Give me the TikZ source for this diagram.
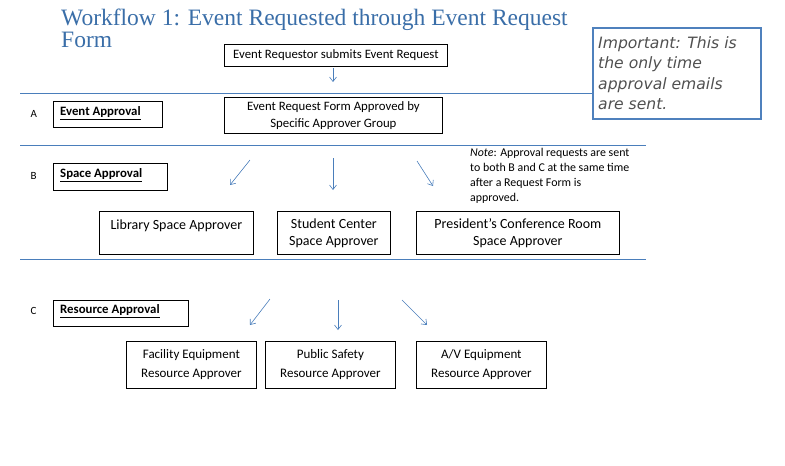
\documentclass[tikz,border=0pt]{standalone}
\usepackage{fontspec}
\setmainfont{Carlito}
\newfontfamily\titlefont{Liberation Serif}
\newfontfamily\calloutfont{DejaVu Sans}
\usetikzlibrary{arrows.meta}
\definecolor{rulecol}{HTML}{4A7EBB}
\definecolor{titlecol}{HTML}{3A6EA8}
\definecolor{calloutcol}{HTML}{4F81BD}
\definecolor{callouttext}{HTML}{505050}
\tikzset{
  box/.style={draw=black, line width=0.8pt, anchor=north west, inner sep=0pt, align=center},
  lab/.style={box},
  labtext/.style={anchor=west, inner sep=0pt, font=\fontsize{12.8}{14}\selectfont\bfseries},
  rowletter/.style={font=\fontsize{11}{12}\selectfont, anchor=west},
  sep/.style={draw=rulecol, line width=0.8pt},
  arr/.style={draw=rulecol, line width=0.6pt, -{Straight Barb[length=4.5pt,width=7pt]}},
}
\begin{document}
\begin{tikzpicture}[x=1pt,y=-1pt]
\useasboundingbox (0,0) rectangle (785,466);
% title
\node[anchor=north west, inner sep=0pt, align=left, text=titlecol,
      font=\titlefont\fontsize{23.5}{22}\selectfont] (title) at (61,8.5)
      {Workflow 1: Event Requested through Event Request\\Form};
% callout
\node[draw=calloutcol, line width=1.6pt, anchor=north west, minimum width=168pt, minimum height=91pt,
      inner sep=0pt] (callout) at (592,27) {};
\node[anchor=north west, inner sep=0pt, align=left, text=callouttext,
      font=\calloutfont\itshape\fontsize{15.6}{20.6}\selectfont] (callouttxt) at (598,36)
      {Important: This is\\the only time\\approval emails\\are sent.};
% top box
\node[box, minimum width=223pt, minimum height=22pt, font=\fontsize{12.8}{15}\selectfont] (req) at (224,44)
      {Event Requestor submits Event Request};
\coordinate (a0s) at (333,68);
\coordinate (a0e) at (333,82);
\draw[arr] (a0s) -- (a0e);
% separator lines
\coordinate (l1s) at (20,93);
\draw[sep] (l1s) -- (callout.west |- l1s);
\coordinate (l2s) at (20,145);
\coordinate (l2e) at (646,145);
\draw[sep] (l2s) -- (l2e);
\coordinate (l3s) at (20,259);
\coordinate (l3e) at (646,259);
\draw[sep] (l3s) -- (l3e);
% row A
\node[rowletter] (la) at (27,114) {A};
\node[lab, minimum width=109pt, minimum height=26pt] (evap) at (53,101) {};
\node[labtext] (evapt) at (60,113) {\underline{Event Approval}};
\node[box, minimum width=218pt, minimum height=36pt, font=\fontsize{12.8}{17}\selectfont] (form) at (224,97)
      {Event Request Form Approved by\\Specific Approver Group};
% row B
\node[rowletter] (lb) at (27,176) {B};
\node[lab, minimum width=114pt, minimum height=27pt] (spap) at (53,163) {};
\node[labtext] (spapt) at (60,175) {\underline{Space Approval}};
\coordinate (b1s) at (250,160); \coordinate (b1e) at (230,185);
\coordinate (b2s) at (333,158); \coordinate (b2e) at (333,190);
\coordinate (b3s) at (417,161); \coordinate (b3e) at (433,186);
\draw[arr] (b1s) -- (b1e);
\draw[arr] (b2s) -- (b2e);
\draw[arr] (b3s) -- (b3e);
\node[anchor=north west, inner sep=0pt, align=left, font=\fontsize{11.9}{14.8}\selectfont] (note) at (470,148.5)
      {\textit{Note}: Approval requests are sent\\to both B and C at the same time\\after a Request Form is\\approved.};
\node[box, minimum width=154pt, minimum height=43pt, font=\fontsize{14}{17}\selectfont] (lib) at (99,211)
      {Library Space Approver\\\mbox{}};
\node[box, minimum width=113pt, minimum height=43pt, font=\fontsize{14}{17}\selectfont] (stu) at (277,211)
      {Student Center\\Space Approver};
\node[box, minimum width=203pt, minimum height=43pt, font=\fontsize{14}{17}\selectfont] (pres) at (416,211)
      {President’s Conference Room\\Space Approver};
% row C
\node[rowletter] (lc) at (27,311) {C};
\node[lab, minimum width=135pt, minimum height=26pt] (resap) at (53,300) {};
\node[labtext] (resapt) at (60,311) {\underline{Resource Approval}};
\coordinate (c1s) at (270,299); \coordinate (c1e) at (250,325);
\coordinate (c2s) at (338,300); \coordinate (c2e) at (338,330);
\coordinate (c3s) at (402,300); \coordinate (c3e) at (427,325);
\draw[arr] (c1s) -- (c1e);
\draw[arr] (c2s) -- (c2e);
\draw[arr] (c3s) -- (c3e);
\node[box, minimum width=130pt, minimum height=47pt, font=\fontsize{13}{19}\selectfont] (fac) at (126,341)
      {Facility Equipment\\Resource Approver};
\node[box, minimum width=130pt, minimum height=47pt, font=\fontsize{13}{19}\selectfont] (pub) at (265,341)
      {Public Safety\\Resource Approver};
\node[box, minimum width=130pt, minimum height=47pt, font=\fontsize{13}{19}\selectfont] (av) at (416,341)
      {A/V Equipment\\Resource Approver};
\end{tikzpicture}
\end{document}
